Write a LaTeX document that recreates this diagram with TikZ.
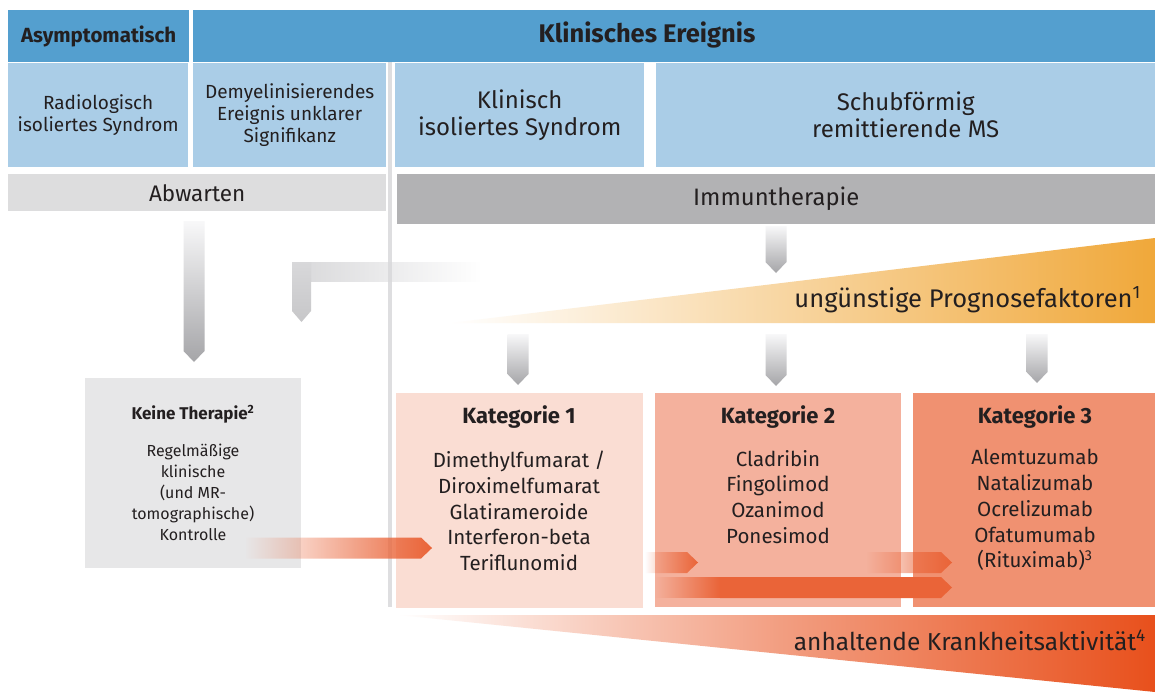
\documentclass[tikz,border=0pt]{standalone}
\usepackage{fontspec}
\setmainfont{Fira Sans}
\usetikzlibrary{fadings,calc}

\definecolor{hdr}{RGB}{84,159,207}
\definecolor{lblue}{RGB}{170,205,231}
\definecolor{gabw}{RGB}{221,221,222}
\definecolor{gimm}{RGB}{178,178,180}
\definecolor{vline}{RGB}{222,222,224}
\definecolor{gkt}{RGB}{231,231,232}
\definecolor{kA}{RGB}{250,221,211}
\definecolor{kB}{RGB}{244,177,157}
\definecolor{kC}{RGB}{240,145,113}
\definecolor{wedgeA}{RGB}{240,168,58}
\definecolor{wedgeB}{RGB}{232,80,28}
\definecolor{arr}{RGB}{234,100,56}
\definecolor{garr}{RGB}{165,165,168}
\definecolor{gtop}{RGB}{248,248,249}
\definecolor{gelb}{RGB}{216,216,218}
\definecolor{txt}{RGB}{35,31,32}

\tikzfading[name=fadein, left color=transparent!100, right color=transparent!0]
\tikzfading[name=fadeout, left color=transparent!0, right color=transparent!100]

\tikzset{
  panel/.style={draw=none, anchor=north west, inner sep=0pt, align=center, text=txt},
  hdrtxt/.style={font=\bfseries\fontsize{20.5}{22}\selectfont},
  bluetxt/.style={font=\fontsize{19}{22.5}\selectfont},
  bluetxtb/.style={font=\fontsize{19}{21.7}\selectfont},
  bigtxt/.style={font=\fontsize{24}{27}\selectfont},
  greytxt/.style={font=\fontsize{22.5}{24}\selectfont},
  kathead/.style={font=\bfseries\fontsize{22}{24}\selectfont, text=txt, inner sep=0pt},
  katlist/.style={font=\fontsize{20.5}{25.8}\selectfont, align=center, text=txt, inner sep=0pt},
  wedgetxt/.style={text=txt, inner sep=0pt, anchor=east},
}

\newcommand\gdown[2]{%
  \shade[top color=gtop, bottom color=garr]
    ($(#1)+(-10.5,0)$) -- ($(#1)+(10.5,0)$) -- ($(#2)+(10.5,-11)$) -- (#2) -- ($(#2)+(-10.5,-11)$) -- cycle;}
\newcommand\oarrow[2]{%
  \fill[arr, path fading=fadein]
    ($(#1)+(0,-10.5)$) -- ($(#2)+(-11,-10.5)$) -- (#2) -- ($(#2)+(-11,10.5)$) -- ($(#1)+(0,10.5)$) -- cycle;}

\begin{document}
\begin{tikzpicture}[x=1pt,y=-1pt]
\useasboundingbox[fill=white] (0,0) rectangle (1155,698);

% header row
\node[panel, fill=hdr, minimum width=181pt, minimum height=52pt, hdrtxt] (asy) at (8,10) {Asymptomatisch};
\node[panel, fill=hdr, minimum width=962pt, minimum height=52pt] (kle) at (193,10) {};
\node[font=\bfseries\fontsize{25.5}{27}\selectfont, text=txt, inner sep=0pt] at (647,35) {Klinisches Ereignis};

% light blue row
\node[panel, fill=lblue, minimum width=180pt, minimum height=104pt, bluetxt] (ris) at (8,63) {Radiologisch\\isoliertes Syndrom};
\node[panel, fill=lblue, minimum width=193pt, minimum height=104pt, bluetxtb] (dem) at (193,63) {Demyelinisierendes\\Ereignis unklarer\\Signifikanz};
\node[panel, fill=lblue, minimum width=249pt, minimum height=104pt, bigtxt] (cis) at (395,63) {Klinisch\\isoliertes Syndrom};
\node[panel, fill=lblue, minimum width=499pt, minimum height=104pt, bigtxt] (rms) at (656,63) {Schubförmig\\remittierende MS};

% vertical separator
\fill[vline] (388,62) rectangle (392,607);

% grey row
\node[panel, fill=gabw, minimum width=378pt, minimum height=37pt, greytxt] (abw) at (8,174) {Abwarten};
\node[panel, fill=gimm, minimum width=758pt, minimum height=50pt, greytxt, font=\fontsize{23.8}{25}\selectfont] (imm) at (397,174) {Immuntherapie};

% top wedge
\shade[left color=white, right color=wedgeA] (450,323) -- (1155,238) -- (1155,323) -- cycle;
\node[wedgetxt, font=\fontsize{25.5}{28}\selectfont] (prog) at (1141,300) {ungünstige Prognosefaktoren\textsuperscript{1}};

% bottom wedge
\shade[left color=white, right color=wedgeB, middle color=wedgeB!55!white] (398,615) -- (1155,615) -- (1155,692) -- cycle;
\node[wedgetxt, font=\fontsize{24.5}{28}\selectfont] (akt) at (1146,640) {anhaltende Krankheitsaktivität\textsuperscript{4}};

% lower boxes
\node[panel, fill=gkt, minimum width=216pt, minimum height=190pt] (keine) at (85,378) {};
\node[panel, fill=kA, minimum width=247pt, minimum height=215pt] (k1) at (396,393) {};
\node[panel, fill=kB, minimum width=246pt, minimum height=214pt] (k2) at (655,393) {};
\node[panel, fill=kC, minimum width=242pt, minimum height=214pt] (k3) at (913,393) {};

% texts in lower boxes
\node[font=\bfseries\fontsize{17}{18}\selectfont, text=txt, inner sep=0pt] (kth) at (193,414) {Keine Therapie\textsuperscript{2}};
\node[font=\fontsize{16}{21}\selectfont, align=center, text=txt, inner sep=0pt] (ktl) at (193,492) {Regelmäßige\\klinische\\(und MR-\\tomographische)\\Kontrolle};

\node[kathead] (k1h) at (519,417) {Kategorie 1};
\node[katlist] (k1l) at (519,511) {Dimethylfumarat /\\Diroximelfumarat\\Glatirameroide\\Interferon-beta\\Teriflunomid};
\node[kathead] (k2h) at (778,417) {Kategorie 2};
\node[katlist] (k2l) at (778,497) {Cladribin\\Fingolimod\\Ozanimod\\Ponesimod};
\node[kathead] (k3h) at (1035,417) {Kategorie 3};
\node[katlist] (k3l) at (1035,510) {Alemtuzumab\\Natalizumab\\Ocrelizumab\\Ofatumumab\\(Rituximab)\textsuperscript{3}};

% grey down arrows
\coordinate (a0s) at (194,221);  \coordinate (a0e) at (194,362);
\coordinate (a1s) at (776,226);  \coordinate (a1e) at (776,273);
\coordinate (a2s) at (518,334);  \coordinate (a2e) at (518,385);
\coordinate (a3s) at (776,334);  \coordinate (a3e) at (776,386);
\coordinate (a4s) at (1037,334); \coordinate (a4e) at (1037,383);
\gdown{a0s}{a0e}
\gdown{a1s}{a1e}
\gdown{a2s}{a2e}
\gdown{a3s}{a3e}
\gdown{a4s}{a4e}

% elbow arrow
\coordinate (elb) at (292,262);
\coordinate (elbe) at (301.5,322);
\fill[gelb, path fading=fadeout] (elb) rectangle (480,282);
\shade[top color=gelb, bottom color=gelb!92!black]
  (elb) -- (311,262) -- (311,311) -- (elbe) -- (292,311) -- cycle;

% orange right arrows
\coordinate (o1s) at (245,548);  \coordinate (o1e) at (432,548);
\coordinate (o2s) at (645,562.5); \coordinate (o2e) at (698,562.5);
\coordinate (o3s) at (866,562.5); \coordinate (o3e) at (952,562.5);
\coordinate (o4s) at (655,587.5); \coordinate (o4m) at (720,587.5); \coordinate (o4e) at (952,587.5);
\oarrow{o1s}{o1e}
\oarrow{o2s}{o2e}
\oarrow{o3s}{o3e}
\fill[arr, path fading=fadein] ($(o4s)+(0,-10.5)$) rectangle ($(o4m)+(0,10.5)$);
\fill[arr] ($(o4m)+(0,-10.5)$) -- ($(o4e)+(-11,-10.5)$) -- (o4e) -- ($(o4e)+(-11,10.5)$) -- ($(o4m)+(0,10.5)$) -- cycle;
\end{tikzpicture}
\end{document}
